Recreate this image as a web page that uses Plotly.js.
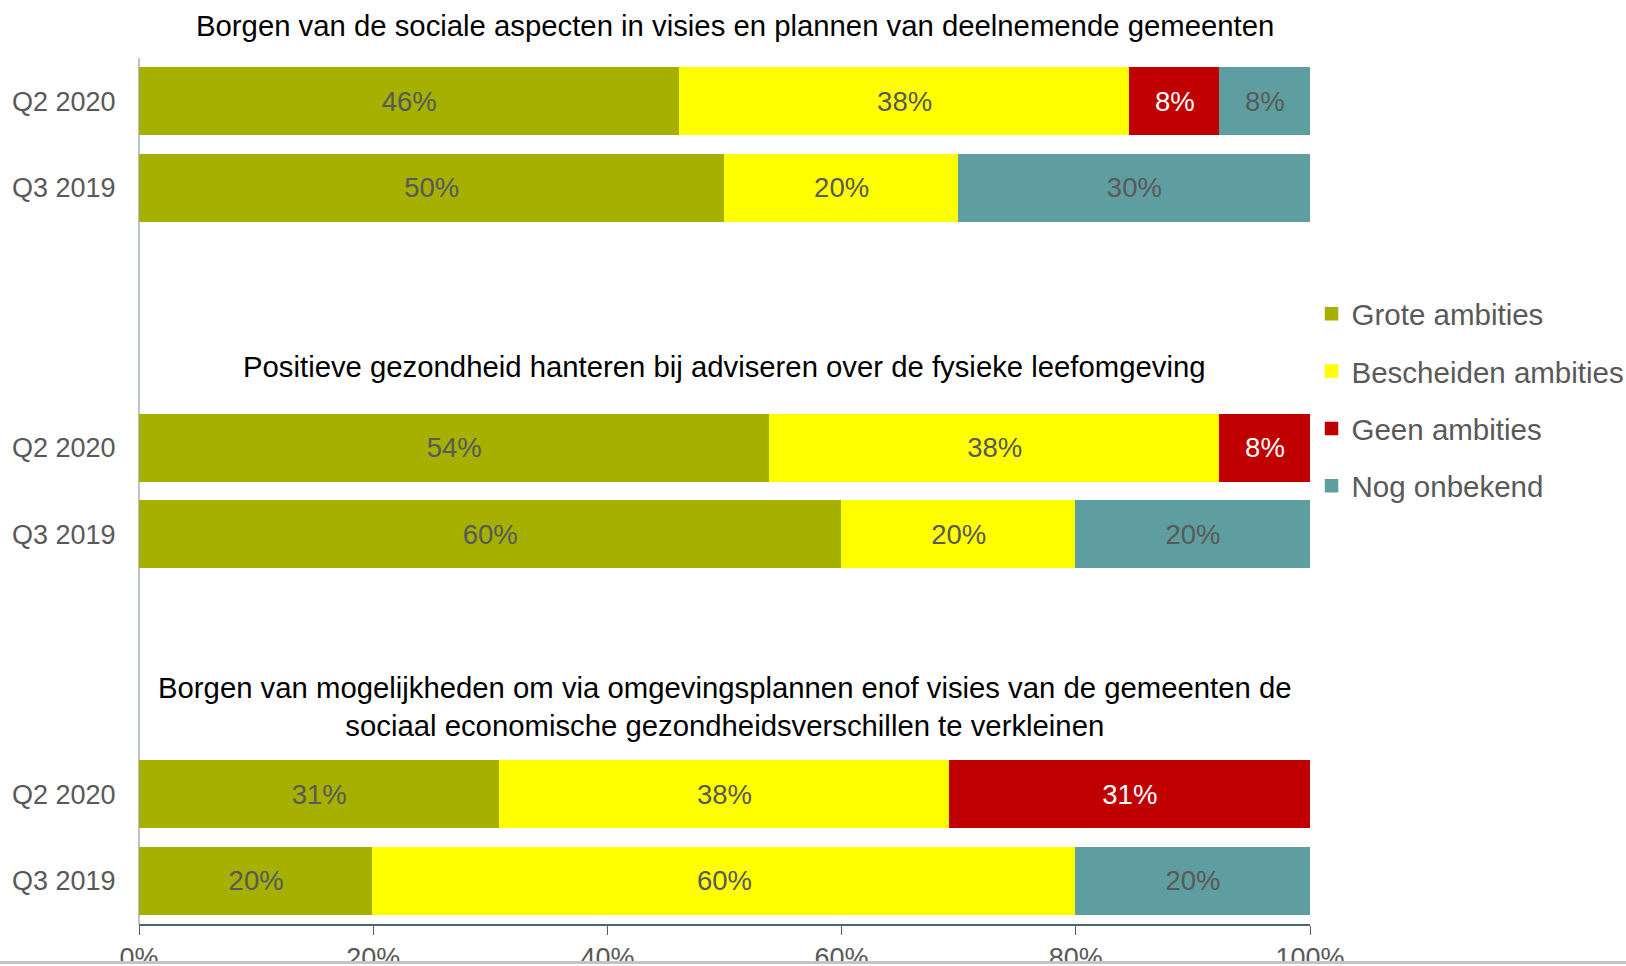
<!DOCTYPE html>
<html>
<head>
<meta charset="utf-8">
<script src="https://cdn.plot.ly/plotly-3.0.1.min.js"></script>
<style>
  html, body { margin: 0; padding: 0; background: #fff; overflow: hidden; }
  #chart { width: 1626px; height: 966px; }
  #cut { position: absolute; left: 0; top: 961px; width: 1626px; height: 5px;
         background: #fff; border-top: 3px solid #c4c4c4; box-sizing: border-box; }
</style>
</head>
<body>
<div id="chart"></div>
<div id="cut"></div>
<script>
// ---- data ----
const topics = [
  'Borgen van de sociale aspecten in visies en plannen van deelnemende gemeenten',
  'Positieve gezondheid hanteren bij adviseren over de fysieke leefomgeving',
  'Borgen van mogelijkheden om via omgevingsplannen enof visies van de gemeenten de<br>sociaal economische gezondheidsverschillen te verkleinen'
];
const periods = ['Q2 2020', 'Q3 2019'];
const seriesNames = ['Grote ambities', 'Bescheiden ambities', 'Geen ambities', 'Nog onbekend'];
// values per topic: [Q2 2020, Q3 2019]
const groteAmbities      = [[46.15, 50], [53.85, 60], [30.77, 20]];
const bescheidenAmbities = [[38.46, 20], [38.46, 20], [38.46, 60]];
const geenAmbities       = [[7.69, null], [7.69, null], [30.77, null]];
const nogOnbekend        = [[7.69, 30], [null, 20], [null, 20]];
const xTicks = [0, 20, 40, 60, 80, 100];

// ---- styles ----
const colors = ['#A5B000', '#FFFF00', '#C00000', '#5F9EA0'];
const textColors = ['#595959', '#595959', '#FFFFFF', '#595959'];
const seriesValues = [groteAmbities, bescheidenAmbities, geenAmbities, nogOnbekend];
const FONT = 'Liberation Sans, Arial, sans-serif';

const traces = [];
topics.forEach((t, g) => {
  const yName = g === 0 ? 'y' : 'y' + (g + 1);
  seriesValues.forEach((vals, s) => {
    traces.push({
      type: 'bar',
      orientation: 'h',
      name: seriesNames[s],
      legendgroup: seriesNames[s],
      showlegend: g === 0,
      x: vals[g],
      y: periods,
      xaxis: 'x',
      yaxis: yName,
      marker: { color: colors[s], line: { width: 1.5, color: colors[s] } },
      texttemplate: '%{x:.0f}%',
      textposition: 'inside',
      insidetextanchor: 'middle',
      constraintext: 'none',
      textfont: { family: FONT, size: 27.5, color: textColors[s] },
      hoverinfo: 'skip'
    });
  });
});

const domains = [[0.8, 1.0], [0.4, 0.6], [0.0, 0.2]];
const titleX = [0.509, 0.5, 0.5];
const titleY = [1.038, 0.644, 0.251];

function yAxis(g) {
  return {
    domain: domains[g],
    anchor: 'x',
    type: 'category',
    categoryorder: 'array',
    categoryarray: ['Q3 2019', 'Q2 2020'],
    range: [-0.5, 1.5],
    showgrid: false,
    zeroline: false,
    showline: false,
    ticks: 'outside',
    ticklen: 17,
    tickcolor: 'rgba(0,0,0,0)',
    tickfont: { family: FONT, size: 27, color: '#595959' },
    automargin: false,
    fixedrange: true
  };
}

const layout = {
  width: 1626,
  height: 966,
  margin: { l: 139, r: 316, t: 58, b: 42, autoexpand: false },
  paper_bgcolor: '#ffffff',
  plot_bgcolor: '#ffffff',
  barmode: 'stack',
  bargap: 0.23,
  font: { family: FONT, color: '#595959' },
  xaxis: {
    anchor: 'y3',
    range: [0, 100],
    tickvals: xTicks,
    ticktext: xTicks.map(v => v + '%'),
    showgrid: false,
    zeroline: false,
    showline: true,
    linecolor: '#4a6474',
    linewidth: 1.5,
    ticks: 'outside',
    ticklen: 9,
    tickcolor: '#4a6474',
    tickwidth: 1,
    ticklabelstandoff: 0,
    tickfont: { family: FONT, size: 27, color: '#595959' },
    automargin: false,
    fixedrange: true
  },
  yaxis: yAxis(0),
  yaxis2: yAxis(1),
  yaxis3: yAxis(2),
  legend: {
    x: 1.0013,
    xanchor: 'left',
    y: 0.605,
    yanchor: 'middle',
    traceorder: 'grouped',
    tracegroupgap: 16,
    font: { family: FONT, size: 29.5, color: '#595959' },
    bgcolor: 'rgba(0,0,0,0)',
    itemclick: false,
    itemdoubleclick: false
  },
  shapes: [{
    type: 'line', xref: 'paper', yref: 'paper',
    x0: 0, x1: 0, y0: 0, y1: 1,
    line: { color: '#9fb0bf', width: 1.5 },
    layer: 'below'
  }],
  annotations: topics.map((t, g) => ({
    text: t,
    xref: 'paper', yref: 'paper',
    x: titleX[g], y: titleY[g],
    xanchor: 'center', yanchor: 'middle',
    showarrow: false,
    align: 'center',
    font: { family: FONT, size: 29.3, color: '#000000' }
  }))
};

Plotly.newPlot('chart', traces, layout, { displayModeBar: false, staticPlot: true });
</script>
</body>
</html>
